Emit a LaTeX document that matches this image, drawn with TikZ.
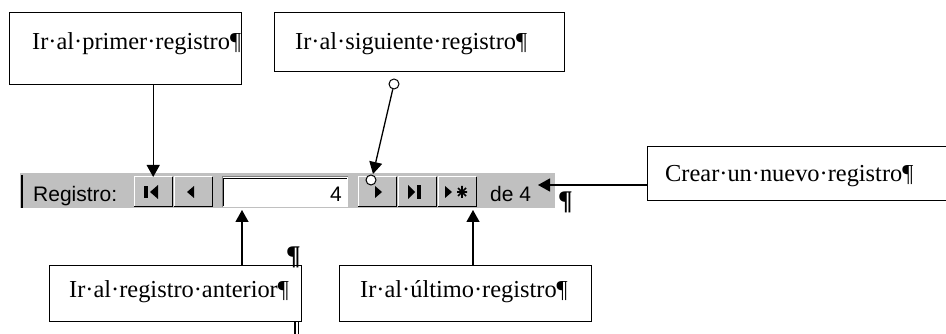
\documentclass[tikz,border=0pt]{standalone}
\usepackage{fontspec}
\setmainfont{Liberation Serif}
\newfontfamily\uisans{Liberation Sans}
\usetikzlibrary{arrows.meta,calc}
\definecolor{tbgray}{RGB}{192,192,192}
\definecolor{tbdark}{RGB}{128,128,128}
\begin{document}
\begin{tikzpicture}[x=1pt,y=-1pt,
  callout/.style={draw=black, line width=1.3pt, fill=white, inner sep=0pt, anchor=north west},
  lbl/.style={font=\fontsize{24.4}{26}\selectfont, inner sep=0pt, anchor=base west},
  ui/.style={font=\uisans\fontsize{21}{24}\selectfont, inner sep=0pt, anchor=base west},
  arr/.style={line width=1.3pt, -{Triangle[width=13pt,length=12pt]}},
  handle/.style={circle, draw=black, fill=white, line width=1pt, minimum size=10pt, inner sep=0pt},
  btn/.style={fill=tbgray, inner sep=0pt, minimum width=38pt, minimum height=29pt, anchor=north west},
  glyph/.style={fill=black},
  pilmark/.style={inner sep=0pt, anchor=base west, font=\fontsize{27}{27}\selectfont\bfseries},
]
\useasboundingbox (0,0) rectangle (946,334);
\clip (0,0) rectangle (946,334);
\fill[white] (0,0) rectangle (946,334);

% toolbar
\fill[tbgray] (20,173) rectangle (555,208);
\draw[white, line width=1pt] (20,209.5) -- (555,209.5);
\draw[black, line width=1.6pt] (22,175) -- (22,208);
\node[ui] (reg) at (33,202) {Registro:};

\foreach \n/\x in {first/134, prev/174, next/358, last/398, new/438} {
  \node[btn] (\n) at (\x,177) {};
  \draw[white, line width=1pt] (\n.south west) -- (\n.north west) -- (\n.north east);
  \draw[black, line width=1.3pt] (\n.south west) -- (\n.south east) -- (\n.north east);
}
% glyphs
\fill[glyph] (144,186) rectangle (148,198);
\fill[glyph] (150,192) -- (158,185) -- (158,199) -- cycle;
\fill[glyph] (187,192) -- (194,186) -- (194,198) -- cycle;
\fill[glyph] (375,186) -- (382,192) -- (375,198) -- cycle;
\fill[glyph] (408,185) -- (415,192) -- (408,199) -- cycle;
\fill[glyph] (417,185) rectangle (421,199);
\fill[glyph] (445,186) -- (452,192) -- (445,198) -- cycle;
\draw[black, line width=1.6pt] (462,186) -- (462,198) (457,192) -- (467,192)
  (458,188) -- (466,196) (458,196) -- (466,188);

% record number field
\node[fill=white, inner sep=0pt, minimum width=126pt, minimum height=30pt, anchor=north west] (recbox) at (222,177) {};
\draw[tbdark, line width=1pt] (recbox.south west) -- (recbox.north west) -- (recbox.north east);
\draw[black, line width=1.2pt] ($(recbox.south west)+(1.5,-1)$) -- ($(recbox.north west)+(1.5,1.5)$) -- ($(recbox.north east)+(-1,1.5)$);
\node[ui, anchor=base east] (recnum) at (342,202) {4};
\node[ui] (deof) at (490,202) {de 4};
\node[pilmark] (pilA) at (558,210) {¶};

% callout boxes
\node[callout, minimum width=232pt, minimum height=72pt] (b1) at (9,12) {};
\node[lbl] (t1) at (32,50) {Ir·al·primer·registro¶};
\node[callout, minimum width=290pt, minimum height=59pt] (b2) at (274,12) {};
\node[lbl] (t2) at (295,50) {Ir·al·siguiente·registro¶};
\node[callout, minimum width=320pt, minimum height=54pt] (b3) at (647,146) {};
\node[lbl] (t3) at (665,182) {Crear·un·nuevo·registro¶};
\node[callout, minimum width=252pt, minimum height=56pt] (b4) at (49,265) {};
\node[lbl] (t4) at (69,297) {Ir·al·registro·anterior¶};
\node[callout, minimum width=252pt, minimum height=56pt] (b5) at (339,265) {};
\node[lbl] (t5) at (360,297) {Ir·al·último·registro¶};

\node[pilmark] (pilB) at (286,265) {¶};
\draw[black, line width=1.2pt] (295,321) -- (295,334) (298.5,321) -- (298.5,334);

% connectors
\draw[arr] (first.north |- b1.south) -- (first.north);

\node[handle] (c1) at (394,84) {};
\coordinate (tipnext) at (373,174);
\draw[arr] (c1) -- (tipnext);
\node[handle] (c2) at (371,180) {};

\coordinate (tipnew) at (538,185);
\draw[arr] (tipnew -| b3.west) -- (tipnew);

\coordinate (tipprev) at (242,210);
\draw[arr] (tipprev |- b4.north) -- (tipprev);

\coordinate (tiplast) at (473,210);
\draw[arr] (tiplast |- b5.north) -- (tiplast);
\end{tikzpicture}
\end{document}
